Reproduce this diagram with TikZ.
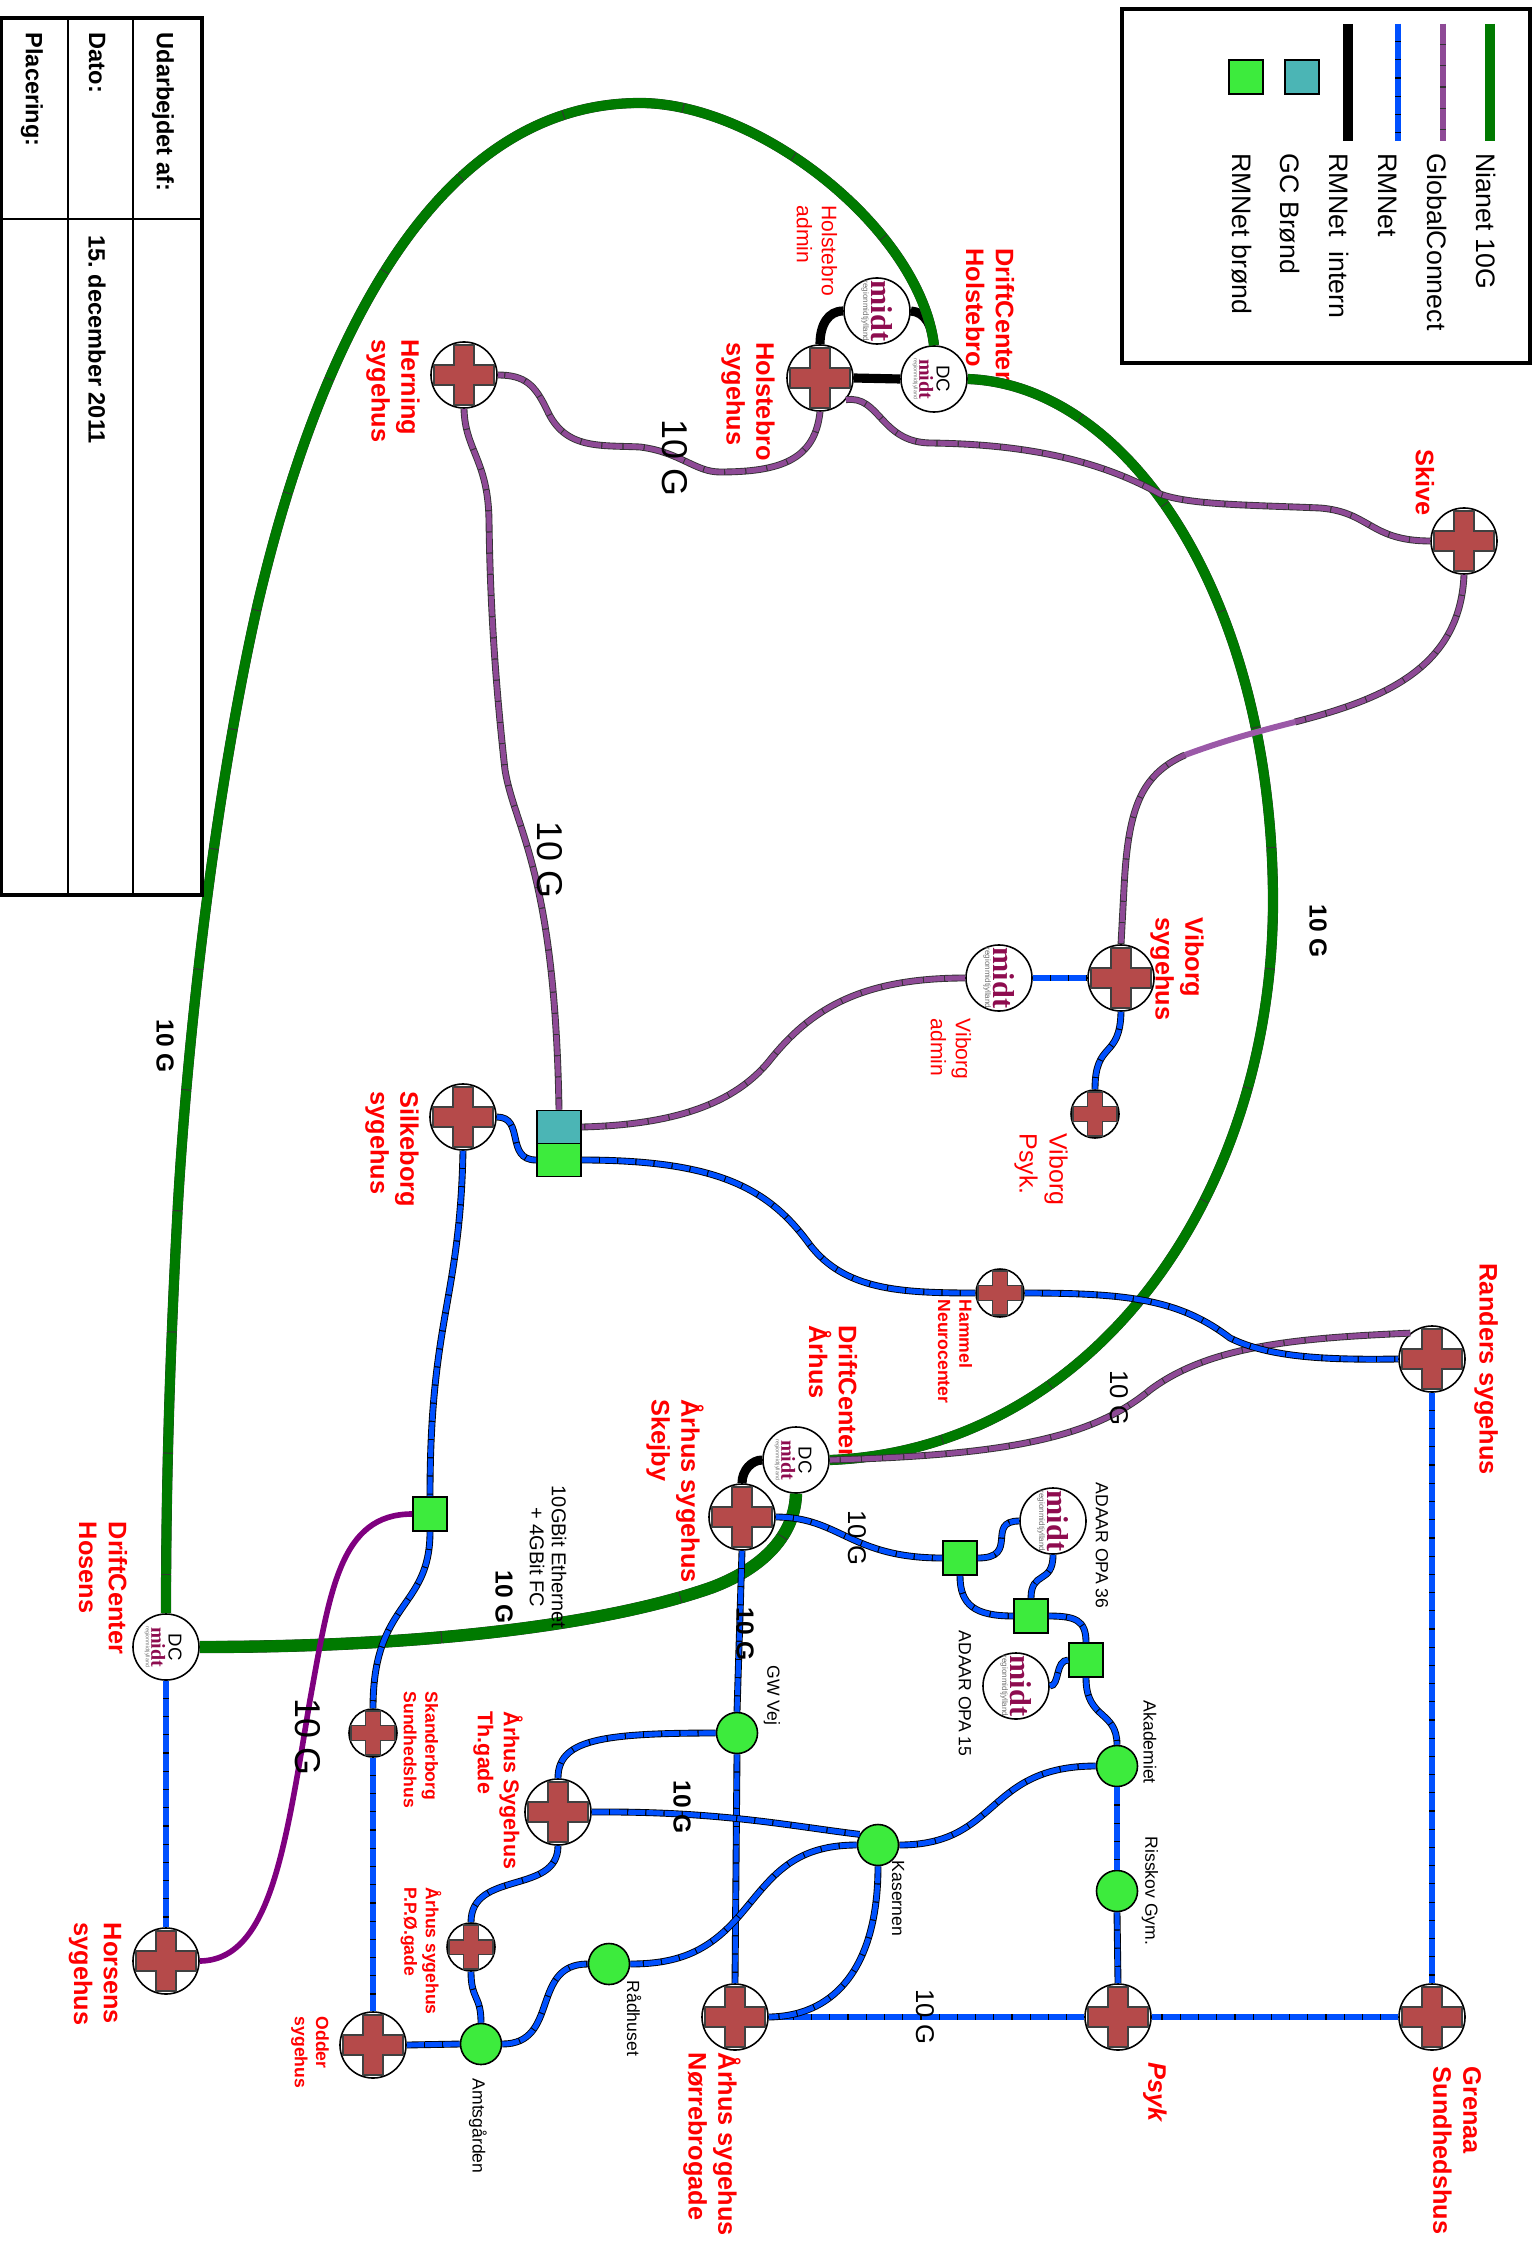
\documentclass[tikz,border=0pt]{standalone}
\usepackage{fontspec}
\usepackage{tikz}
\setmainfont{Liberation Sans}
\newfontfamily\logofont{Liberation Serif}
\usetikzlibrary{positioning,calc}
\definecolor{rmblue}{HTML}{0050FF}
\definecolor{gcpurple}{HTML}{8E4A96}
\definecolor{gclight}{HTML}{9B59A8}
\definecolor{gcdark}{HTML}{7F007F}
\definecolor{niagreen}{HTML}{007A00}
\definecolor{brondgreen}{HTML}{3DEB3D}
\definecolor{brondteal}{HTML}{4BB5B5}
\definecolor{korsred}{HTML}{B54A4A}
\definecolor{midtred}{HTML}{8E0C4F}
\newcommand{\midttekst}{{\logofont\bfseries\fontsize{8.6}{8.6}\selectfont\textcolor{midtred}{midt}}\\\textcolor{black!55}{regionmidtjylland}}
\begin{document}
\begin{tikzpicture}[x=0.01cm,y=-0.01cm,
  sted/.style={circle,draw=black,line width=.45pt,fill=white,inner sep=0pt,minimum size=.66cm},
  smalsted/.style={sted,minimum size=.48cm},
  kors/.style={draw=black!75,line width=.5pt,fill=korsred},
  punkt/.style={circle,draw=black,line width=.45pt,fill=brondgreen,inner sep=0pt,minimum size=.41cm},
  brond/.style={rectangle,draw=black,line width=.5pt,fill=brondgreen,inner sep=0pt,minimum size=.34cm},
  gcbrond/.style={brond,fill=brondteal},
  midtlogo/.style={rotate=-90,align=center,inner sep=0pt,font=\fontsize{2.3}{2.4}\selectfont},
  lbl/.style={rotate=-90,anchor=west,align=left,inner sep=0pt},
  storlbl/.style={lbl,text=red,font=\bfseries\fontsize{7.2}{8.5}\selectfont},
  midlbl/.style={lbl,text=red,font=\bfseries\fontsize{6.1}{7.4}\selectfont},
  lillelbl/.style={lbl,text=red,font=\bfseries\fontsize{5}{6.1}\selectfont},
  tyndlbl/.style={lbl,text=red,font=\fontsize{6}{7.1}\selectfont},
  stedlbl/.style={lbl,font=\fontsize{5}{6}\selectfont},
  leglbl/.style={lbl,font=\fontsize{7.6}{9}\selectfont},
  tablbl/.style={lbl,font=\bfseries\fontsize{6.7}{8}\selectfont},
  ti/.style={rotate=-90,inner sep=0pt,font=\fontsize{7.3}{9}\selectfont},
  tifed/.style={ti,font=\bfseries\fontsize{7}{9}\selectfont},
  tistor/.style={ti,font=\fontsize{10.2}{12}\selectfont},
  rmnet/.style={draw=rmblue,line width=1.45pt,dash pattern=on .17cm off .012cm,
    preaction={draw=black,solid,line width=1.95pt}},
  gc/.style={draw=gcpurple,line width=1.45pt,dash pattern=on .2cm off .012cm,
    preaction={draw=black!80,solid,line width=1.95pt}},
  nianet/.style={draw=niagreen,line width=2.8pt,dash pattern=on 1.2cm off .012cm,
    preaction={draw=black!80,solid,line width=2.9pt}},
  intern/.style={draw=black,line width=2.6pt}]
  \useasboundingbox (0,0) rectangle (1534,2246);

  % tekster
  \foreach \navn/\xx/\yy/\tekst in {
    ldch/990/248/DriftCenter\\Holstebro, lhsyg/748/342/Holstebro\\sygehus,
    lhern/393/339/Herning\\sygehus, lskive/1425/449/Skive,
    lvib/1177/917/Viborg\\sygehus, lsilk/392/1091/Silkeborg\\sygehus,
    lrand/1486/1263/Randers sygehus, ldca/833/1325/DriftCenter\\Århus,
    lskej/675/1399/Århus sygehus\\Skejby, lnorr/712/2052/Århus sygehus\\Nørrebrogade,
    lgren/1457/2066/Grenaa\\Sundhedshus, ldcho/103/1521/DriftCenter\\Hosens,
    lhors/95/1922/Horsens\\sygehus}
    \node[storlbl] (\navn) at (\xx,\yy) {\tekst};
  \node[storlbl,font=\bfseries\itshape\fontsize{7.2}{8.5}\selectfont] (lpsyk) at (1155,2062) {Psyk};
  \node[midlbl] (lth) at (498,1711) {Århus Sygehus\\Th.gade};
  \foreach \navn/\xx/\yy/\tekst in {
    lskan/421/1691/Skanderborg\\Sundhedshus, lpp/421/1887/Århus sygehus\\P.P.Ø.gade,
    lodd/310/2016/Odder\\sygehus, lham/955/1299/Hammel\\Neurocenter}
    \node[lillelbl] (\navn) at (\xx,\yy) {\tekst};
  \node[tyndlbl] (lhadm) at (817,205) {Holstebro\\admin};
  \node[tyndlbl] (lvadm) at (951,1018) {Viborg\\admin};
  \node[tyndlbl,font=\fontsize{7.1}{8.5}\selectfont] (lvpsy) at (1041,1133) {Viborg\\Psyk.};
  \foreach \navn/\xx/\yy/\tekst in {
    lopa/1102/1482/ADAAR OPA 36, lopb/965/1630/ADAAR OPA 15, lgw/772/1665/GW Vej,
    laka/1150/1700/Akademiet, lris/1150/1836/Risskov Gym., lkas/898/1860/Kasernen,
    lrad/634/1980/Rådhuset, lamt/478/2078/Amtsgården}
    \node[stedlbl] (\navn) at (\xx,\yy) {\tekst};

  % steder
  \foreach \navn/\xx/\yy in {hsyg/820/378, hern/464/375, skive/1464/541, vsyg/1121/978,
    silk/463/1117, rand/1432/1359, skej/742/1517, thg/558/1812, odder/373/2045,
    norr/735/2017, psyk/1118/2017, gren/1432/2017, hors/166/1961}{
    \node[sted] (\navn) at (\xx,\yy) {};
    \draw[kors,shift={(\navn)},scale=10] (-3,-1)--(-1,-1)--(-1,-3)--(1,-3)--(1,-1)--(3,-1)--(3,1)--(1,1)--(1,3)--(-1,3)--(-1,1)--(-3,1)--cycle;
  }
  \foreach \navn/\xx/\yy in {vpsy/1095/1114, hamm/1000/1293, skan/373/1733, ppo/471/1947}{
    \node[smalsted] (\navn) at (\xx,\yy) {};
    \draw[kors,shift={(\navn)},scale=7.4] (-3,-1)--(-1,-1)--(-1,-3)--(1,-3)--(1,-1)--(3,-1)--(3,1)--(1,1)--(1,3)--(-1,3)--(-1,1)--(-3,1)--cycle;
  }
  \foreach \navn/\xx/\yy in {hadm/877/311, vadm/999/978, opa/1053/1521, opb/1016/1686}{
    \node[sted] (\navn) at (\xx,\yy) {};
    \node[midtlogo] (\navn logo) at (\xx,\yy) {\midttekst};
  }
  \foreach \navn/\xx/\yy in {dch/934/379, dca/796/1460, dcho/166/1647}{
    \node[sted] (\navn) at (\xx,\yy) {};
    \node[midtlogo,scale=.66] (\navn logo) at (\xx-11,\yy) {\midttekst};
    \node[rotate=-90,inner sep=0pt,font=\fontsize{5.3}{6}\selectfont] (\navn dc) at (\xx+9,\yy) {DC};
  }
  \foreach \navn/\xx/\yy in {gwv/737/1733, aka/1117/1766, ris/1117/1891, kas/878/1845,
    rad/609/1964, amt/481/2044}
    \node[punkt] (\navn) at (\xx,\yy) {};
  \foreach \navn/\xx/\yy in {bra/430/1514, brb/960/1558, brc/1031/1616, brd/1086/1660}
    \node[brond] (\navn) at (\xx,\yy) {};
  \node[gcbrond,minimum width=.44cm,minimum height=.33cm] (gcbr) at (559,1127) {};
  \node[brond,minimum width=.44cm,minimum height=.33cm] (rmbr) at (559,1160) {};

  % intern
  \draw[intern] (hsyg.east) -- (dch.west);
  \draw[intern] (hsyg.north) .. controls (820,325) and (828,311) .. (hadm.west);
  \draw[intern] (hadm.east) .. controls (925,312) and (932,325) .. (dch.north);
  \draw[intern] (dca.west) .. controls (752,1460) and (742,1470) .. (skej.north);

  % nianet
  \draw[nianet] (dch.north) .. controls (920,230) and (760,103) .. (640,103)
    .. controls (440,103) and (322,331) .. (258,603) .. controls (220,770) and (190,1000) .. (178,1203)
    .. controls (170,1350) and (166,1480) .. (dcho.north);
  \draw[nianet] (dch.east) .. controls (1130,385) and (1272,600) .. (1273,900)
    .. controls (1273,1200) and (1090,1450) .. (dca.east);
  \draw[nianet,line width=3.4pt,preaction={draw=black!80,solid,line width=3.5pt}] (dcho.east) .. controls (450,1647) and (620,1620) .. (713,1587)
    .. controls (770,1565) and (795,1530) .. (dca.south);
  \node[lbl,font=\fontsize{5.7}{6.3}\selectfont,align=center] (leth) at (548,1485) {10GBit Ethernet\\+ 4GBit FC};

  % globalconnect
  \draw[gc] (hsyg.south) .. controls (815,460) and (780,472) .. (720,472) .. controls (695,472) and (680,452) .. (640,447)
    .. controls (600,445) and (565,450) .. (547,410) .. controls (535,385) and (525,375) .. (hern.east);
  \draw[gc] (hern.south) .. controls (465,450) and (488,460) .. (489,520) .. controls (490,600) and (495,680) .. (505,770)
    .. controls (515,830) and (555,870) .. (gcbr.north);
  \draw[gc] (hsyg.-40) .. controls (880,395) and (880,442) .. (930,443) .. controls (1010,444) and (1090,455) .. (1160,494)
    .. controls (1190,505) and (1250,505) .. (1320,508) .. controls (1370,512) and (1370,541) .. (skive.west);
  \coordinate (lysa) at (1295,722);
  \coordinate (lysb) at (1185,755);
  \draw[gc] (skive.south) .. controls (1460,670) and (1380,700) .. (lysa);
  \draw[draw=gclight,line width=1.7pt] (lysa) .. controls (1255,732) and (1220,742) .. (lysb);
  \draw[gc] (lysb) .. controls (1140,775) and (1128,810) .. (1124,888) -- (vsyg.north);
  \draw[gc] (vadm.west) .. controls (860,978) and (810,1010) .. (770,1060) .. controls (730,1110) and (660,1125) .. (gcbr.east);
  \draw[gc] (rand.130) .. controls (1300,1338) and (1210,1345) .. (1150,1390) .. controls (1090,1440) and (1000,1455) .. (dca.east);
  \draw[draw=gcdark,line width=1.6pt] (hors.east) .. controls (270,1960) and (285,1850) .. (310,1700)
    .. controls (330,1590) and (340,1514) .. (bra.west);

  % rmnet
  \draw[rmnet] (vadm.east) -- (vsyg.west);
  \draw[rmnet] (vsyg.south) .. controls (1120,1060) and (1095,1040) .. (vpsy.north);
  \draw[rmnet] (silk.east) .. controls (525,1117) and (505,1160) .. (rmbr.west);
  \draw[rmnet] (silk.south) .. controls (460,1300) and (430,1320) .. (bra.north);
  \draw[rmnet] (bra.south) .. controls (430,1610) and (373,1600) .. (skan.north);
  \draw[rmnet] (skan.south) -- (odder.north);
  \draw[rmnet] (rmbr.east) .. controls (720,1160) and (770,1190) .. (810,1245) .. controls (845,1290) and (900,1293) .. (hamm.west);
  \draw[rmnet] (hamm.east) .. controls (1130,1293) and (1180,1300) .. (1230,1338) .. controls (1270,1358) and (1330,1360) .. (rand.west);
  \draw[rmnet] (rand.south) -- (gren.north);
  \draw[rmnet] (gren.west) -- (psyk.east);
  \draw[rmnet] (psyk.west) -- (norr.east);
  \draw[rmnet] (skej.east) .. controls (840,1517) and (850,1558) .. (brb.west);
  \draw[rmnet] (brb.east) .. controls (1020,1558) and (985,1521) .. (opa.west);
  \draw[rmnet] (brb.south) .. controls (960,1605) and (975,1616) .. (brc.west);
  \draw[rmnet] (opa.south) .. controls (1053,1585) and (1031,1570) .. (brc.north);
  \draw[rmnet] (brc.east) .. controls (1075,1616) and (1086,1620) .. (brd.north);
  \draw[rmnet] (brd.west) .. controls (1055,1660) and (1060,1686) .. (opb.east);
  \draw[rmnet] (brd.south) .. controls (1086,1720) and (1117,1710) .. (aka.north);
  \draw[rmnet] (aka.south) -- (ris.north);
  \draw[rmnet] (ris.south) -- (psyk.north);
  \draw[rmnet] (aka.west) .. controls (985,1766) and (1000,1845) .. (kas.east);
  \draw[rmnet] (skej.south) -- (gwv.north);
  \draw[rmnet] (gwv.south) -- (norr.north);
  \draw[rmnet] (gwv.west) .. controls (600,1733) and (558,1740) .. (thg.north);
  \draw[rmnet] (thg.east) .. controls (720,1811) and (790,1826) .. (kas.150);
  \draw[rmnet] (kas.west) .. controls (790,1845) and (770,1880) .. (740,1915) .. controls (710,1950) and (680,1964) .. (rad.east);
  \draw[rmnet] (kas.south) .. controls (878,1960) and (840,2016) .. (norr.east);
  \draw[rmnet] (thg.south) .. controls (558,1895) and (471,1870) .. (ppo.north);
  \draw[rmnet] (ppo.south) .. controls (471,2000) and (481,1995) .. (amt.north);
  \draw[rmnet] (odder.east) -- (amt.west);
  \draw[rmnet] (amt.east) .. controls (560,2044) and (530,1964) .. (rad.west);
  \draw[rmnet] (dcho.south) -- (hors.north);

  % 10 G
  \node[tistor] (tia) at (675,458) {10 G};
  \node[tistor] (tib) at (550,860) {10 G};
  \node[tistor] (tic) at (308,1737) {10 G};
  \node[ti] (tid) at (1119,1398) {10 G};
  \node[ti] (tie) at (857,1538) {10 G};
  \node[ti] (tif) at (925,2017) {10 G};
  \node[tifed] (tig) at (1318,931) {10 G};
  \node[tifed] (tih) at (165,1046) {10 G};
  \node[tifed] (tii) at (504,1597) {10 G};
  \node[tifed] (tij) at (745,1634) {10 G};
  \node[tifed] (tik) at (682,1807) {10 G};

  % signatur
  \draw[black,line width=1.2pt,fill=white] (1122,9) rectangle (1530,363);
  \foreach \stil/\xx in {nianet/1490,gc/1443,rmnet/1398,intern/1348}{
    \coordinate (\stil a) at (\xx,24);
    \coordinate (\stil b) at (\xx,141);
    \draw[\stil] (\stil a) -- (\stil b);
  }
  \node[gcbrond] (leggc) at (1302,77) {};
  \node[brond] (legrm) at (1246,77) {};
  \foreach \navn/\xx/\tekst in {lega/1486/Nianet 10G, legb/1437/GlobalConnect, legc/1388/RMNet,
    legd/1339/RMNet\ \ intern, lege/1290/GC Brønd, legf/1242/RMNet brønd}
    \node[leglbl] (\navn) at (\xx,153) {\tekst};

  % tabel
  \draw[black,line width=1.1pt] (1,18) rectangle (202,895);
  \draw[black,line width=.35pt] (68,18) -- (68,895) (133,18) -- (133,895) (1,219) -- (202,219);
  \node[tablbl] (tabu) at (163,32) {Udarbejdet af:};
  \node[tablbl] (tabd) at (97,32) {Dato:};
  \node[tablbl] (tabp) at (32,32) {Placering:};
  \node[tablbl] (tabdato) at (97,235) {15.\ december 2011};
\end{tikzpicture}
\end{document}
